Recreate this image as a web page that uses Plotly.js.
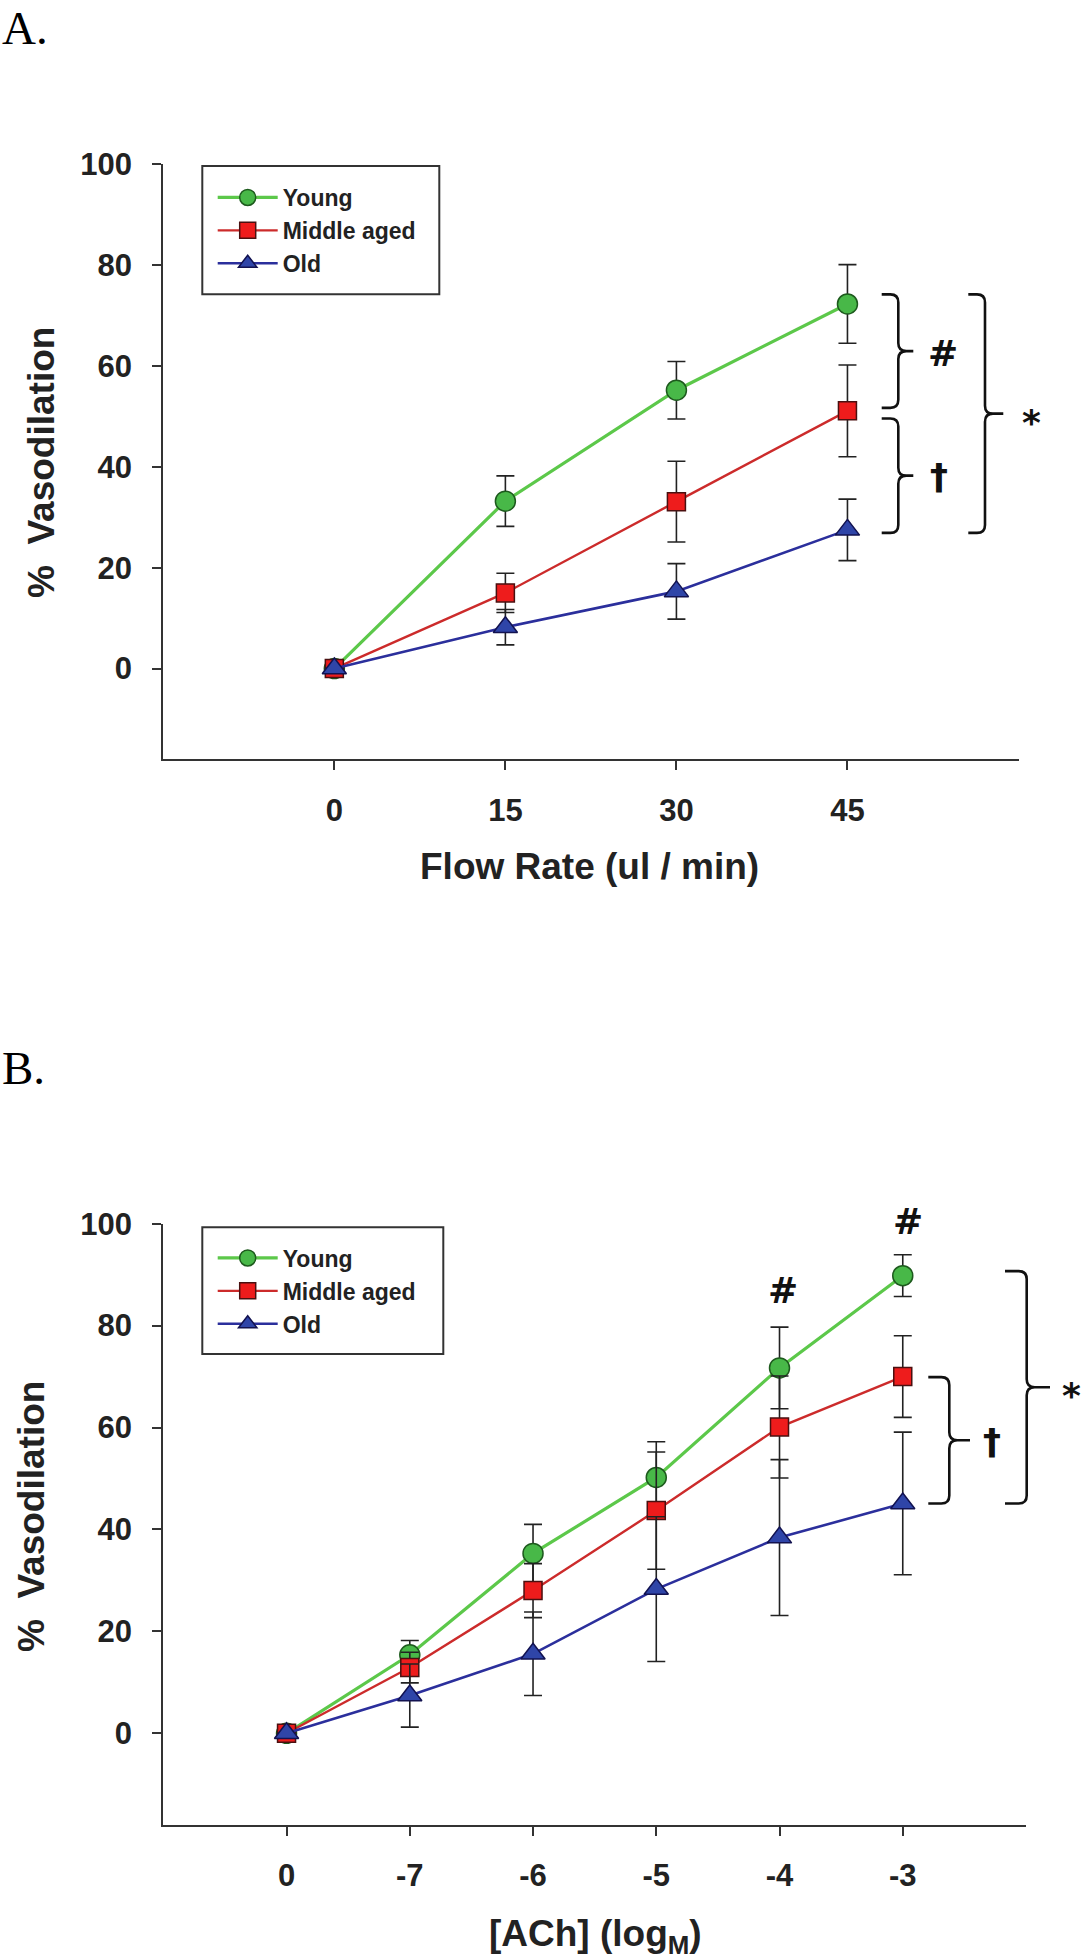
<!DOCTYPE html>
<html>
<head>
<meta charset="utf-8">
<script src="https://cdn.plot.ly/plotly-3.0.1.min.js"></script>
<style>html,body{margin:0;padding:0;background:#fff;}#chart{width:1092px;height:1960px;}</style>
</head>
<body>
<div id="chart"></div>
<script>
// ---------- data ----------
const flowRate = ['0', '15', '30', '45'];
const youngA = [0, 33.2, 55.2, 72.3];
const youngAErr = [0, 5.0, 5.7, 7.8];
const middleA = [0, 15.0, 33.1, 51.1];
const middleAErr = [0, 3.9, 8.0, 9.1];
const oldA = [0, 8.2, 15.3, 27.5];
const oldAErr = [0, 3.5, 5.5, 6.1];

const achLog = ['0', '-7', '-6', '-5', '-4', '-3'];
const youngB = [0, 15.4, 35.3, 50.2, 71.7, 89.8];
const youngBErr = [0, 2.8, 5.7, 7.0, 8.0, 4.1];
const middleB = [0, 12.9, 28.0, 43.7, 60.1, 70.0];
const middleBErr = [0, 3.0, 5.3, 11.5, 10.0, 8.0];
const oldB = [0, 7.4, 15.6, 28.3, 38.4, 45.1];
const oldBErr = [0, 6.2, 8.2, 14.2, 15.3, 14.0];

const seriesNames = ['Young', 'Middle aged', 'Old'];
const yTicks = [0, 20, 40, 60, 80, 100];

// ---------- page geometry ----------
const W = 1092, H = 1960;
const px = x => x / W;
const py = y => 1 - y / H;

const SANS = 'Liberation Sans, Arial, Helvetica, sans-serif';
const HEAVY = 'DejaVu Sans, Liberation Sans, Arial, sans-serif';
const SERIF = 'Liberation Serif, Times New Roman, serif';
const INK = '#222222';

const styles = [
  {line: {color: '#5cc84a', width: 3.2}, marker: {symbol: 'circle', size: 20, color: '#48b848', line: {color: '#1d5a1d', width: 1.5}}},
  {line: {color: '#cc2b2b', width: 2.4}, marker: {symbol: 'square', size: 18, color: '#ee1c1c', line: {color: '#4a1010', width: 1.5}}},
  {line: {color: '#2b2f9c', width: 2.6}, marker: {symbol: 'triangle-up', size: 21, color: '#2f45a8', line: {color: '#121250', width: 1.5}}}
];

function trace(i, x, y, err, xa, ya, legend) {
  return {
    type: 'scatter', mode: 'lines+markers',
    name: seriesNames[i], x: x, y: y,
    xaxis: xa, yaxis: ya, legend: legend,
    line: styles[i].line, marker: styles[i].marker,
    error_y: {type: 'data', array: err, visible: true, color: INK, thickness: 1.6, width: 9},
    cliponaxis: false
  };
}

const data = [
  trace(0, flowRate, youngA, youngAErr, 'x', 'y', 'legend'),
  trace(1, flowRate, middleA, middleAErr, 'x', 'y', 'legend'),
  trace(2, flowRate, oldA, oldAErr, 'x', 'y', 'legend'),
  trace(0, achLog, youngB, youngBErr, 'x2', 'y2', 'legend2'),
  trace(1, achLog, middleB, middleBErr, 'x2', 'y2', 'legend2'),
  trace(2, achLog, oldB, oldBErr, 'x2', 'y2', 'legend2')
];

const tickFont = {family: SANS, size: 31, color: INK, weight: 'bold'};
function xAxis(domain, range, anchor) {
  return {
    type: 'category', domain: domain, range: range, anchor: anchor,
    showline: true, linecolor: '#333', linewidth: 2,
    ticks: 'outside', ticklen: 9, tickwidth: 2, tickcolor: '#333',
    showgrid: false, zeroline: false, tickfont: tickFont, ticklabelstandoff: 13,
    fixedrange: true
  };
}
function yAxis(domain, anchor) {
  return {
    domain: domain, range: [-18, 100], anchor: anchor,
    tickvals: yTicks, showline: true, linecolor: '#333', linewidth: 2,
    ticks: 'outside', ticklen: 9, tickwidth: 2, tickcolor: '#333',
    showgrid: false, zeroline: false, tickfont: tickFont, ticklabelstandoff: 14,
    fixedrange: true
  };
}

// plot rectangles in page pixels
const A = {l: 163.3, r: 1018.5, t: 164.3, b: 759.3};
const B = {l: 163.3, r: 1026, t: 1223.7, b: 1825};

// value -> page pixel on a y axis
function yPix(box, v) { return box.b - (v + 18) / 118 * (box.b - box.t); }

// curly bracket "}" path in page pixels, converted to paper coords
function brace(xEnd, xSpine, xTip, yTop, yBot) {
  const r = 8, yMid = (yTop + yBot) / 2;
  const P = (x, y) => px(x).toFixed(5) + ',' + py(y).toFixed(5);
  const d = 'M' + P(xEnd, yTop) + ' L' + P(xSpine - r, yTop) +
    ' Q' + P(xSpine, yTop) + ' ' + P(xSpine, yTop + r) +
    ' L' + P(xSpine, yMid - r) +
    ' Q' + P(xSpine, yMid) + ' ' + P(xSpine + r, yMid) +
    ' L' + P(xTip, yMid) +
    ' M' + P(xSpine + r, yMid) +
    ' Q' + P(xSpine, yMid) + ' ' + P(xSpine, yMid + r) +
    ' L' + P(xSpine, yBot - r) +
    ' Q' + P(xSpine, yBot) + ' ' + P(xSpine - r, yBot) +
    ' L' + P(xEnd, yBot);
  return {type: 'path', xref: 'paper', yref: 'paper', path: d, line: {color: '#111', width: 2.6}};
}

// legend frames (page pixels)
function frame(l, t, r, b) {
  return {type: 'rect', xref: 'paper', yref: 'paper', x0: px(l), x1: px(r), y0: py(b), y1: py(t),
    line: {color: '#333', width: 2}, fillcolor: '#fff', layer: 'below'};
}

const shapes = [
  frame(202.3, 166, 439.3, 294.3),
  frame(202.3, 1227.3, 443.3, 1354),
  brace(881.7, 898.3, 913.3, yPix(A, 74.2), yPix(A, 51.7)),
  brace(881.7, 898.3, 913.3, yPix(A, 49.6), yPix(A, 26.9)),
  brace(968.3, 985, 1003.3, yPix(A, 74.2), yPix(A, 26.9)),
  brace(928.3, 949.3, 970, yPix(B, 69.9), yPix(B, 45.1)),
  brace(1005, 1026.7, 1050, yPix(B, 90.7), yPix(B, 45.1))
];

function note(text, x, y, size, opts) {
  return Object.assign({
    text: text, xref: 'paper', yref: 'paper', x: px(x), y: py(y),
    xanchor: 'center', yanchor: 'middle', showarrow: false,
    font: {family: SANS, size: size, color: INK, weight: 'bold'}
  }, opts || {});
}
const heavy = s => ({font: {family: HEAVY, size: s, color: '#111', weight: 'bold'}});

const annotations = [
  note('A.', 0, 0, 47, {xanchor: 'left', yanchor: 'top', font: {family: SERIF, size: 47, color: '#000'}}),
  note('B.', 0, 1040, 47, {xanchor: 'left', yanchor: 'top', font: {family: SERIF, size: 47, color: '#000'}}),
  note('#', 942.7, 353.3, 36, heavy(36)),
  note('†', 939.3, 476.7, 36, heavy(36)),
  note('*', 1031.7, 422, 36, heavy(36)),
  note('#', 782.5, 1290, 36, heavy(36)),
  note('#', 908, 1221.7, 36, heavy(36)),
  note('†', 991.7, 1441.7, 36, heavy(36)),
  note('*', 1071.7, 1395, 36, heavy(36)),
  note('Flow Rate (ul / min)', 589, 866, 37),
  note('[ACh] (log<sub>M</sub>)', 595.5, 1936, 37),
  note('%\u00a0\u00a0Vasodilation', 41, 463, 37, {textangle: -90}),
  note('%\u00a0\u00a0Vasodilation', 31, 1517, 37, {textangle: -90})
];

const legendStyle = {
  xanchor: 'left', yanchor: 'top', bgcolor: 'rgba(0,0,0,0)',
  borderwidth: 0,
  font: {family: SANS, size: 23, color: INK, weight: 'bold'},
  itemwidth: 60, tracegroupgap: 0, itemclick: false, itemdoubleclick: false
};

const layout = {
  width: W, height: H, margin: {l: 0, r: 0, t: 0, b: 0},
  paper_bgcolor: '#fff', plot_bgcolor: 'rgba(0,0,0,0)',
  showlegend: true,
  xaxis: xAxis([px(A.l), px(A.r)], [-1, 4], 'y'),
  yaxis: yAxis([py(A.b), py(A.t)], 'x'),
  xaxis2: xAxis([px(B.l), px(B.r)], [-1, 6], 'y2'),
  yaxis2: yAxis([py(B.b), py(B.t)], 'x2'),
  legend: Object.assign({x: px(212.7), y: py(176)}, legendStyle),
  legend2: Object.assign({x: px(212.7), y: py(1236.5)}, legendStyle),
  shapes: shapes,
  annotations: annotations
};

Plotly.newPlot('chart', data, layout, {staticPlot: true, displayModeBar: false});
</script>
</body>
</html>
